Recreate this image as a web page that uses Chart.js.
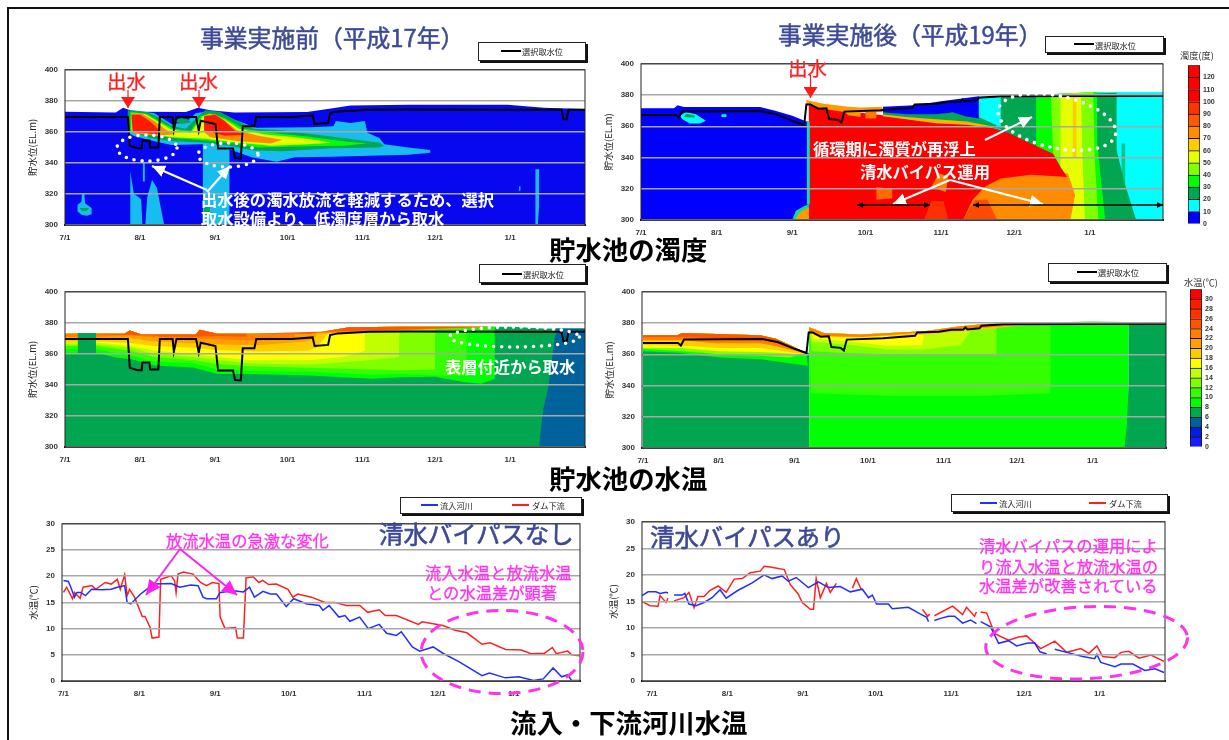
<!DOCTYPE html>
<html lang="ja">
<head>
<meta charset="utf-8">
<title>貯水池の濁度・水温</title>
<script src="https://cdn.jsdelivr.net/npm/chart.js@4"></script>
<style>
body { margin: 0; background: #fff; width: 1229px; height: 740px; overflow: hidden; position: relative; font-family: "Noto Sans CJK JP", sans-serif; }
canvas { position: absolute; }
#frame { position: absolute; left: 7px; top: 7px; width: 1240px; height: 760px; border: 2.5px solid #111; }
#notes { position: absolute; left: 0; top: 0; }
.t { position: absolute; white-space: nowrap; transform: translateY(-50%); line-height: 1; }
.title { font-size: 23.8px; color: #3d4a96; -webkit-text-stroke: 0.5px #3d4a96; }
.cap { font-size: 26.4px; font-weight: bold; color: #000; }
.red { font-size: 19.5px; color: #ff2020; -webkit-text-stroke: 0.3px #ff2020; }
.white { font-size: 16.3px; font-weight: bold; color: #fff; }
.pink { font-size: 16.3px; color: #ff33ee; -webkit-text-stroke: 0.3px #ff33ee; }
.navy { font-size: 24.4px; color: #3d4a96; -webkit-text-stroke: 0.6px #3d4a96; }
.bar { font-size: 9.2px; color: #333; }
.box { position: absolute; box-sizing: border-box; background: #fff; border: 1px solid #222; box-shadow: 2px 2px 0 #111; }
.key { position: absolute; height: 2px; }
.kt { font-size: 8.2px; color: #222; }
</style>
</head>
<body>
<div id="frame"></div>
<script>
// month ticks, days counted from 7/1
const monthDays = [0, 31, 62, 92, 123, 153, 184];
const monthLabels = ['7/1', '8/1', '9/1', '10/1', '11/1', '12/1', '1/1'];

// selected intake level, [day, EL.m]
const intake17 = [[0,369.6],[26,369.6],[26.8,351],[30,349.5],[31.7,349.5],[32,354.5],[34.9,354.5],[35.2,349.9],[38.6,349.9],[39.2,369.6],[44.5,369.6],[45,361.5],[46.1,369.6],[54.2,369.6],[55.3,360.9],[56.1,367.2],[62.2,365.1],[63.3,349.3],[69.5,349.3],[70.3,343.1],[72.7,342.9],[73.5,363.6],[78.3,363.6],[79.1,369.6],[93.6,369.6],[102.4,370.6],[103.2,365.1],[108.8,365.8],[109.6,372.1],[112.9,373.2],[125.7,374.2],[141.8,374.4],[182,374.2],[205.3,374.2],[206.1,368.1],[207.4,368.1],[208.2,374.2],[215,374.2]];
const intake19 = [[0,367.3],[14.3,367.3],[15.5,365.6],[16.8,369.4],[48.8,369.8],[55.4,367.7],[62,363.5],[66.9,360.8],[67.8,374],[69.4,374],[72.7,371.3],[76,371.5],[77.1,364.6],[80.9,364.1],[82.2,362.4],[83.4,369.4],[98.2,370.3],[111.3,371.9],[112.2,374],[121.2,374.5],[126.2,375.7],[131,375.7],[131.9,377.2],[132.8,375.9],[137.7,376.6],[138.5,378.3],[147.5,379.3],[214,379.5]];

// turbidity, before the project: outlines of each colour band, [day, EL.m]
const turb17Base = [[0,300],[0,373],[21,372.5],[24,375.5],[27,374],[30,373],[50,372.8],[55,375.5],[60,374],[70,372.5],[100,372.8],[110,375],[118,377],[142,377.5],[183,377.5],[198,375.5],[215,374.8],[215,300]];
const turb17Cyan = [[26,373],[28.5,374],[37,372],[44,365],[50,366],[54,372],[58,373],[64,372.5],[70,368],[79,362.6],[101.6,363],[111,363.6],[112,367],[118,365.8],[124,367],[125,359.4],[130,356],[132,352],[142,350],[151,348.4],[151,346.5],[142,345.2],[125.7,344.6],[110,344],[95,343.6],[87.5,340.8],[77.5,343.5],[68,348.8],[68,300],[57,300],[57,352],[44,351.6],[37,354],[28.5,357.3],[26,359.4]];
const turb17Green = [[26,374],[33,373],[38,370],[44,364],[50,362],[55,370],[58,374],[64,373],[70,368],[78,362],[90,361],[100,359],[115,356],[130,353],[132,351],[130,350],[110,349.5],[90,347.5],[78,348],[68,351],[58,353],[45,354],[35,356],[26,361]];
const turb17Bright = [[27,373],[34,371.5],[39,367],[45,362],[52,360.5],[56,370],[60,372],[66,369],[74,362],[85,359.5],[100,357],[115,354],[125,352.5],[115,351],[95,350.5],[80,350],[70,352.5],[58,354.5],[45,356],[35,358],[27,361]];
const turb17Yellow = [[27.5,372],[33,371.5],[38,367],[44,361.5],[52,359.5],[57,370],[60,371.5],[66,368],[72,362],[82,358.5],[95,356.5],[105,354.5],[110,353],[100,352],[85,351],[72,353],[58,355.5],[45,356.5],[35,358.5],[27.5,360]];
const turb17Orange1 = [[27.5,372],[32,371.5],[37,367],[42,361],[46,358.5],[38,357.5],[28,359]];
const turb17Orange2 = [[57.5,370.5],[62,371.5],[66,367.5],[71,361],[80,357.5],[90,355],[85,352.5],[72,354],[60,356.5],[57.5,360]];
const turb17Red1 = [[27.5,371],[31,371],[35,367],[39,361],[38,358.5],[28,360]];
const turb17Red2 = [[57.5,370],[62,371],[66,367],[70,361],[74,358],[66,357.5],[57.5,361]];
const turb17Blob = [[45,367],[48,369],[51,368],[52,366],[48,365]];
const turb17Spike1 = [[27,300],[27,334.5],[28.5,320],[30,318.5],[31.5,316.5],[32,300]];
const turb17Spike2 = [[32.2,340],[33,340],[33,328],[32.2,328]];
const turb17Hump = [[33.2,300],[34,318],[36,329],[38,324],[39.5,312],[41,300]];
const turb17Far1 = [[194.5,300],[194.5,336],[196,336],[196,312],[195.5,300]];
const turb17Far2 = [[187.7,322],[188.3,322],[188.3,325],[187.7,325]];
const turb17Drop = [[7,320],[8,320],[8.3,314],[11,311],[11,307],[9,306],[7,306.5],[5,309],[5.2,313],[6.8,315]];
const turb17DropCore = [[6,311],[10,311],[9,309],[7,309]];
const turb17Column = [[57.5,306],[57.5,312],[60,312],[60,306]];

// turbidity, after the project
const turb19Blue = [[0,300],[0,371.5],[13.5,371.5],[15,373.4],[17.6,372.4],[48.8,372.4],[55,370],[62,366.7],[67.8,363],[68.8,363],[68.8,300]];
const turb19Cyan = [[138.5,379.3],[164,380.4],[187,382],[214,382],[214,300],[138.5,300]];
const turb19DarkGreen = [[147.5,379],[195,381.5],[195,345],[198,325],[203,300],[185,300],[160,330],[147.5,350]];
const turb19Green = [[162,380],[187,382],[187,350],[190.3,300],[170,300],[162,340]];
const turb19Lime = [[168,380.5],[185.4,382],[186,340],[187.5,300],[170,300]];
const turb19Yellow = [[172,380.5],[180.4,381],[181,340],[182,300],[172,300]];
const turb19Strip = [[177,381],[178.5,381],[178.5,340],[177,340]];
const turb19Orange = [[130,300],[136,316],[141,323],[147.5,330],[160,331],[175,330],[178,316],[176,300]];
const turb19Red = [[68.8,375],[72,373.5],[80,371.5],[83,370],[99,367],[108.8,364.6],[121,362.4],[133.4,361.4],[138.5,361.4],[149,356.8],[157.4,350.8],[169,342.4],[172,334],[174.7,327.6],[160,329],[147.5,326.6],[141,321.3],[136,313],[132,300],[68.8,300]];
const turb19Deep = [[132,300],[137,313],[142,313],[146,300]];
const turb19Patch1 = [[96.5,313],[96.5,321],[103,320],[103,314]];
const turb19Patch2 = [[119,321],[122,330],[126,328],[125,318]];
const turb19Patch3 = [[116,300],[119,312],[124,312],[126,300]];
const turb19Top = [[67.8,376.8],[70,376],[75,374.5],[85,372.5],[90,372],[99,372.5],[99,369],[84,369],[75,371],[67.8,374]];
const turb19Yel1 = [[83,370],[90,370],[90,366],[85,367]];
const turb19Yel2 = [[92,370],[96.5,370],[96.5,365],[92,365]];
const turb19Wedge = [[99.2,372.5],[112,373.5],[123,376],[138.5,379.3],[138.5,365],[133,366.5],[128,368.8],[121,367.7],[108.8,367.7],[99.2,368.8]];
const turb19Stripe = [[99.2,369],[108.8,368],[121,368],[128,369],[133,367],[138.5,366],[144,362],[149,358],[144,359],[133.4,361],[121,362],[108.8,364.5],[99.2,366.5]];
const turb19StripeIn = [[99.2,367.5],[108.8,366],[121,364.5],[133.4,363],[144,360],[144,359],[133.4,361],[121,362],[108.8,364.5],[99.2,366.5]];
const turb19Foot = [[62,300],[63.5,306],[67,309],[68.8,310],[68.8,300]];
const turb19FootIn = [[63,300],[65,305],[68.8,308],[68.8,300]];
const turb19Edge = [[68,363],[69.2,363],[69.2,310],[68,310]];
const turb19Cloud = [[16,366.7],[18.4,369.2],[22.5,367.7],[26.6,363.5],[24.2,361.8],[20,361.8],[16.8,364.6]];
const turb19CloudIn = [[17.5,366],[18.5,368],[22,367],[22,365.5]];
const turb19Speck = [[33,366],[35,366],[35,367.7],[33,367.7]];
const turb19Streak = [[197,313],[198.5,313],[198.5,349],[197,349]];

// water temperature, before the project
const temp17Base = [[0,300],[0,372.9],[24.5,373],[26.8,375],[31.6,372.5],[54,372.5],[55.7,375.6],[63,372.9],[101.4,372.9],[109.5,375],[117.5,377.1],[138.4,377.5],[185,377.5],[197.8,376.3],[215,376.3],[215,300]];
const temp17Top = [[0,372.9],[24.5,373],[26.8,375],[31.6,372.5],[54,372.5],[55.7,375.6],[63,372.9],[101.4,372.9],[109.5,375],[117.5,377.1],[138.4,377.5],[177.7,377.5]];
const temp17B8 = [[177.7,343.9],[172,340.7],[165.6,341.7],[152.8,345.3],[138.4,344.9],[127,343.9],[101,346],[75.8,347],[63,347],[53,351.3],[37,352.5],[27.6,356.5],[21,357.6],[12.8,360.8],[5,360],[0,360]];
const temp17B10 = [[166,377.5],[166,346],[153,346],[138,347],[127,346.5],[101,348.5],[76,349],[63,350],[53,354],[37,355],[27,359],[13,363],[0,363]];
const temp17B12 = [[153,377.5],[153,350],[138,349.5],[127,350],[101,351],[76,352],[63,353.5],[53,356],[37,358],[27,362],[13,365],[0,365]];
const temp17B14 = [[138.4,377.5],[138,358],[127,356],[101,353],[76,354],[63,356],[53,358],[37,360],[27,364],[13,366],[0,366]];
const temp17B16 = [[124,376],[124,362],[115,358],[101,356],[76,356],[63,358],[53,360],[37,362],[27,365],[13,367.5],[0,367.5]];
const temp17B18 = [[110,375],[104,364],[100,362],[80,361.5],[63,362.5],[53,364],[37,365],[27,367],[13,368],[0,367.5]];
const temp17B20 = [[104,373],[104,371],[100,368],[80,365.5],[63,366],[53,367],[37,368],[27,370],[13,369.5],[0,369.5]];
const temp17B22 = [[95,373],[95,370],[80,368.5],[63,369.5],[53,370.3],[37,370.5],[27,372],[13,370.8],[0,370.8]];
const temp17B24 = [[75,373],[75,371],[63,371.5],[53,371],[40,371],[37,371.8]];
const temp17Gap = [[5.3,358],[5.3,373.5],[12.8,373.5],[12.8,358]];
const temp17Cold = [[196,300],[197,315],[197.8,325],[200,340],[202.6,372],[203,376.3],[215,376.3],[215,300]];

// water temperature, after the project
const temp19Left = [[0,300],[0,372.2],[14,372.2],[16,373.7],[48,372.2],[54.4,370],[61,365.3],[66.7,361],[68,361],[68,300]];
const temp19LeftTop = [[0,372.2],[14,372.2],[16,373.7],[48,372.2],[54.4,370],[61,365.3],[66.7,361]];
const temp19L8 = [[67.5,352.6],[48,356.8],[31.5,357.9],[14,361],[0,362]];
const temp19L12 = [[60,358],[48,359],[31,360],[16,362],[0,363.5]];
const temp19L16 = [[67,359],[60,360.5],[48,361.5],[31,362],[16,364],[0,364]];
const temp19L18 = [[67,360],[61,361],[56,362.5],[48,364],[31,364],[16,365.5],[0,366]];
const temp19L22 = [[67,360.5],[60,363],[55,365],[48,367],[30,367],[16,369],[0,369]];
const temp19L26 = [[67,360.8],[60,364],[54,367.5],[48,369.5],[16,371],[0,371]];
const temp19Right = [[68,300],[68,377.3],[74,373.7],[89,372.6],[115,374.7],[130,377.9],[140,379.4],[183,381],[198.7,380.6],[198.7,300]];
const temp19RTop = [[68,377.3],[74,373.7],[89,372.6],[115,374.7],[130,377.9],[140,379.4],[166.7,380.2]];
const temp19R10 = [[166.7,335],[140,333.5],[100,333.5],[68.8,335]];
const temp19R12 = [[144.6,379.9],[144.6,360],[100,360],[80,361],[69,362]];
const temp19R14 = [[136.4,379],[135,377],[130,366],[125,365],[115,363],[100,363],[85,366],[69,368]];
const temp19R16 = [[115.5,374.7],[114,366],[100,365.5],[85,368],[70,370]];
const temp19R18 = [[115,372.5],[85,371],[70,372]];
const temp19R22 = [[90,371],[74,371.5],[68,374]];
const temp19Cold = [[197,300],[198,315],[198.7,340],[198.7,380.6],[214,380.6],[214,300]];

// river water temperature, [day, deg C], null breaks the line
const inflow17 = [[0,19.2],[2,19],[3,17.9],[4.5,16],[5.5,16.9],[7,16.9],[9,16.3],[11.5,17.5],[15.5,17.4],[19.5,17.5],[22,17.9],[25,18.2],[26,15],[27.5,14.7],[31.5,16.6],[34,17.5],[37,18.5],[44,18.6],[47.5,17.9],[52,18.3],[55,18.2],[57,16],[58.5,15.7],[62.5,15.7],[64,16.9],[69.5,17.2],[73.5,17],[76,17.9],[78,16],[81.5,17.1],[84.5,16.6],[87,16.6],[91,14.2],[94,15.7],[99.5,14.7],[104.5,14.4],[106,13.5],[108.5,14.4],[112.5,12.2],[115,12.5],[117,11.4],[121,12.2],[124.5,10],[129,10.8],[132,9.1],[136,8.7],[138,9.4],[142.5,6.5],[145.5,5.7],[151,6.5],[155,5.3],[161.5,3.7],[171,1],[174,1.5],[180.5,0.6],[186,0.8],[192,0.1],[196,0.4],[200,2.5],[203.5,0.8],[206,1.2],[207.5,0.1],[211,0.1]];
const outflow17 = [[0,16.9],[1.3,17.9],[3.7,15.7],[4.5,16.9],[6.8,15.8],[8,17.9],[11.6,18.2],[13.2,17.5],[17,18.8],[19.5,18.5],[22,19.4],[23.2,17.5],[25,20.3],[26,16.3],[27,17.5],[29,16],[32.2,12.3],[33.3,12.3],[35.4,10.2],[36.2,8.2],[39,8.4],[39.7,19.4],[44,20.1],[45.4,19.1],[46,16.9],[46.8,20.4],[49,20.8],[52.9,20.4],[56,18.8],[58.4,18.2],[60.8,18.8],[63.5,18.6],[64,12.2],[66,10],[70.3,10.2],[71,8.2],[73.5,8.2],[74.6,19.7],[77.5,19.9],[79.8,18.8],[81.4,19.2],[83.8,18.4],[87,18.5],[91.7,17.5],[93.7,16],[95.7,16.6],[101.3,16],[106.8,15],[110.8,15],[115.6,14.4],[121,14.4],[124.3,13.1],[129,13.6],[131.4,12.5],[136,12.5],[145,10.8],[146.5,11.3],[155,10.6],[160,9.7],[164.8,9.2],[171,7],[174.3,7.3],[180.6,6],[187,5.9],[191,5.2],[196.5,5.3],[199.7,6.4],[201.3,5.2],[206,5.7],[207.6,5],[210.8,4.8]];
const inflow19 = [[-4.1,16.1],[-1.6,16.8],[1.6,16.8],[3.3,16.5],[5.8,16.7],[6.6,16.6],[7.5,null],[9.1,16.2],[12.4,16.2],[13.5,16.5],[15.2,14.5],[18.1,14.2],[21.4,14.8],[24.7,15.7],[28,17.2],[30.5,15.6],[35.4,17.1],[41.2,18.5],[46.1,20],[49.4,19.3],[53.5,19.8],[56,18.8],[59.3,19.5],[64.3,17.6],[68.4,18.7],[72.5,17.6],[77.4,17.8],[81.5,16.8],[86.5,17.3],[89,15.7],[90.6,16.2],[92.3,14.5],[97.2,14.5],[98.8,13.6],[105.4,13.9],[110.4,12.6],[112.9,12],[113.7,11.2],[115,null],[116.1,11.4],[118.6,11.8],[121.9,12.2],[124.4,12.2],[127.7,10.9],[131,11.5],[133.4,10.8],[134,null],[135.1,11.2],[139.2,10.2],[142.5,7.1],[146.6,7.6],[149.9,6.6],[154,7.1],[157.3,7.2],[159.5,5.5],[162.3,5.1],[164,null],[165.6,6],[171.3,5.3],[177.1,4.6],[182,4.2],[182.9,5],[184.5,3.5],[190.3,2.7],[192.8,3.2],[197.7,3.2],[202.6,2],[206.8,2.3],[210.5,1.6]];
const outflow19 = [[-4.1,15],[-0.8,14.2],[2.5,14.1],[3.3,16.1],[5.8,14.8],[6.6,15.6],[7.5,null],[9.1,15.1],[13.2,15.7],[15.2,16.7],[17.3,13.8],[18.9,15.9],[21.4,15.9],[23.9,17.1],[27.2,17.9],[30.5,16.7],[33.8,19.2],[37.1,19.3],[40.4,20.4],[44.5,20.7],[46.1,21.6],[48.6,21.5],[54.4,21],[56.8,18.2],[60.1,16.4],[61.8,14.8],[65.1,13.5],[66.4,13.5],[67.5,19.3],[69.2,15.7],[71.7,18.4],[73.3,16.7],[75.8,18.4],[78,null],[82.4,17.5],[84,19.3],[86,17.3],[90,null],[111.2,13.5],[113.3,12.2],[114.2,12.6],[115,null],[116.1,12.3],[123.6,14.1],[127.7,12.5],[129.3,13.9],[132.6,12.2],[133.4,13],[134,null],[135.1,13],[137.6,12.8],[140.9,8.9],[146.6,7.7],[150.7,8.3],[154,8.5],[159.8,6.1],[165.6,7.5],[170.5,5.4],[176.3,6.1],[179.6,5.2],[182.9,6.6],[185.3,4.6],[190.3,4.4],[192.8,5.4],[196,5.6],[200.2,4.3],[205.1,4.9],[210.5,3.7]];

// colour bars
const turbClasses = [10,10,10,10,10,10,10,10,10,10,10,10,10];
const turbColors = ['#0000ff','#00ffff','#00a650','#00ff00','#80ff00','#e6ff00','#ffcc00','#ff8c00','#ff5a00','#ff3300','#ff0000','#ff0000','#ff0000'];
const tempClasses = [2,2,2,2,2,2,2,2,2,2,2,2,2,2,2,2];
const tempColors = ['#1a1aff','#0020e0','#00629b','#00a650','#00ff00','#33ff00','#80ff00','#c0ff00','#ffff00','#ffcc00','#ffa000','#ff7f00','#ff5500','#ff3300','#ff1a00','#ff0000'];

// layers run from back to front
const turb17Layers = [[turb17Base,'#0808f0'],[turb17Cyan,'#18bdf0'],[turb17Spike1,'#18bdf0'],[turb17Spike2,'#18bdf0'],[turb17Hump,'#18bdf0'],[turb17Far1,'#18bdf0'],[turb17Far2,'#18bdf0'],[turb17Drop,'#18bdf0'],[turb17DropCore,'#00a650'],[turb17Column,'#00a650'],[turb17Green,'#00a650'],[turb17Blob,'#00a650'],[turb17Bright,'#00ff00'],[turb17Yellow,'#e6ff00'],[turb17Orange1,'#ff8c00'],[turb17Orange2,'#ff8c00'],[turb17Red1,'#ff1a00'],[turb17Red2,'#ff1a00']];
const turb19Layers = [[turb19Blue,'#0000ff'],[turb19Cloud,'#00ffff'],[turb19CloudIn,'#00a650'],[turb19Speck,'#00ffff'],[turb19Cyan,'#00ffff'],[turb19Streak,'#00c890'],[turb19DarkGreen,'#00a650'],[turb19Green,'#00ff00'],[turb19Lime,'#80ff00'],[turb19Yellow,'#e6ff00'],[turb19Strip,'#ffcc00'],[turb19Orange,'#ff8c00'],[turb19Red,'#ff0000'],[turb19Deep,'#ff4a00'],[turb19Patch1,'#ff6a00'],[turb19Patch2,'#ff7a00'],[turb19Patch3,'#ff3000'],[turb19Top,'#ff9a00'],[turb19Yel1,'#ff9a00'],[turb19Yel2,'#ff7a00'],[turb19Stripe,'#00a650'],[turb19StripeIn,'#ffb000'],[turb19Wedge,'#0000ff'],[turb19Foot,'#00e0a0'],[turb19FootIn,'#ff9a00'],[turb19Edge,'#00e0c0']];

// a water layer from the surface down to a lower limit
function band(top, lower) {
    return top.concat(lower);
}
const temp17Layers = [[temp17Base,'#00a650'],[band(temp17Top,temp17B8),'#00ff00'],[band(temp17Top,temp17B10),'#33ff00'],[band(temp17Top,temp17B12),'#80ff00'],[band(temp17Top,temp17B14),'#c0ff00'],[band(temp17Top,temp17B16),'#ffff00'],[band(temp17Top,temp17B18),'#ffcc00'],[band(temp17Top,temp17B20),'#ffa000'],[band(temp17Top,temp17B22),'#ff7f00'],[band(temp17Top,temp17B24),'#ff5500'],[temp17Gap,'#00a650'],[temp17Cold,'#00629b']];
const temp19Layers = [[temp19Left,'#00a650'],[band(temp19LeftTop,temp19L8),'#00ff00'],[band(temp19LeftTop,temp19L12),'#80ff00'],[band(temp19LeftTop,temp19L16),'#ffff00'],[band(temp19LeftTop,temp19L18),'#ffcc00'],[band(temp19LeftTop,temp19L22),'#ff8000'],[band(temp19LeftTop,temp19L26),'#ff5500'],[temp19Right,'#00ff00'],[band(temp19RTop,temp19R10),'#33ff00'],[band(temp19RTop,temp19R12),'#80ff00'],[band(temp19RTop,temp19R14),'#c0ff00'],[band(temp19RTop,temp19R16),'#ffff00'],[band(temp19RTop,temp19R18),'#ffcc00'],[band(temp19RTop,temp19R22),'#ff8000'],[temp19Cold,'#00a650']];

Chart.defaults.animation = false;
Chart.defaults.events = [];
Chart.defaults.font.family = '"Liberation Sans", sans-serif';

const plotFrame = {
    id: 'plotFrame',
    afterDraw(chart) {
        const a = chart.chartArea;
        const ctx = chart.ctx;
        ctx.save();
        ctx.strokeStyle = '#222';
        ctx.lineWidth = 1;
        ctx.strokeRect(a.left, a.top, a.right - a.left, a.bottom - a.top);
        ctx.restore();
    }
};

function points(list) {
    return list.map(p => ({x: p[0], y: p[1]}));
}

function addCanvas(left, top, width, height) {
    const c = document.createElement('canvas');
    c.width = width;
    c.height = height;
    c.style.left = left + 'px';
    c.style.top = top + 'px';
    document.body.appendChild(c);
    return c;
}

// area gives the plot rectangle in the page, the axes get fixed sizes around it
function makePlot(area, xRange, yAxis, datasets, titlePad) {
    const axisW = 40, axisH = 22, pad = 10;
    const c = addCanvas(area[0] - axisW, area[1] - pad, area[2] - area[0] + axisW + pad, area[3] - area[1] + pad + axisH);
    return new Chart(c, {
        type: 'line',
        data: {datasets: datasets},
        plugins: [plotFrame],
        options: {
            responsive: false,
            layout: {padding: {top: pad, right: pad, left: 0, bottom: 0}},
            plugins: {legend: {display: false}, tooltip: {enabled: false}},
            elements: {point: {radius: 0}, line: {tension: 0}},
            scales: {
                x: {
                    type: 'linear',
                    min: xRange[0],
                    max: xRange[1],
                    grid: {display: false, drawTicks: false},
                    border: {color: '#111', width: 2},
                    afterBuildTicks(axis) { axis.ticks = monthDays.map(d => ({value: d})); },
                    afterFit(axis) { axis.height = axisH; },
                    ticks: {
                        autoSkip: false,
                        maxRotation: 0,
                        padding: 8,
                        color: '#333',
                        font: {size: 8, weight: 'bold'},
                        callback: v => monthLabels[monthDays.indexOf(v)]
                    }
                },
                y: {
                    min: yAxis.min,
                    max: yAxis.max,
                    afterFit(axis) { axis.width = axisW; },
                    grid: {color: '#a8a8a8', lineWidth: 1.5, drawTicks: false, z: 1},
                    border: {display: false},
                    title: {display: true, text: yAxis.title, color: '#222', padding: {top: titlePad, bottom: 0}, font: {family: '"Noto Sans CJK JP"', size: 9.5}},
                    ticks: {stepSize: yAxis.step, padding: 7, color: '#333', font: {size: 8, weight: 'bold'}}
                }
            }
        }
    });
}

// dataset 0 is painted last, so the lines come first and the layers reversed
function heatDatasets(layers, intake) {
    const sets = [{label: '選択取水位', data: points(intake), borderColor: '#000', borderWidth: 2, fill: false}];
    layers.slice().reverse().forEach(l => {
        sets.push({data: points(l[0]), borderWidth: 0, borderColor: 'transparent', backgroundColor: l[1], fill: 'shape'});
    });
    return sets;
}

function lineDatasets(inflow, outflow) {
    return [
        {label: '流入河川', data: points(inflow), borderColor: '#2030ff', borderWidth: 1.5, fill: false},
        {label: 'ダム下流', data: points(outflow), borderColor: '#ff2020', borderWidth: 1.5, fill: false}
    ];
}

function makeColorBar(left, top, bottom, max, step, classes, colors) {
    const w = 12, axisW = 22, pad = 6;
    const c = addCanvas(left, top - pad, w + axisW, bottom - top + pad * 2);
    new Chart(c, {
        type: 'bar',
        data: {
            labels: [''],
            datasets: classes.map((v, i) => ({data: [v], backgroundColor: colors[i], borderColor: '#111', borderWidth: 1, barPercentage: 1, categoryPercentage: 1}))
        },
        options: {
            responsive: false,
            layout: {padding: {top: pad, bottom: pad}},
            plugins: {legend: {display: false}, tooltip: {enabled: false}},
            scales: {
                x: {stacked: true, display: false},
                y: {
                    stacked: true,
                    position: 'right',
                    min: 0,
                    max: max,
                    afterFit(axis) { axis.width = axisW; },
                    grid: {display: false, drawTicks: false},
                    border: {display: false},
                    ticks: {stepSize: step, autoSkip: false, padding: 3, color: '#333', font: {size: 7, weight: 'bold'}, callback: v => v === max ? '' : v}
                }
            }
        }
    });
}

const levelAxis = {min: 300, max: 400, step: 20, title: '貯水位(EL.m)'};
const tempAxis = {min: 0, max: 30, step: 5, title: '水温(℃)'};

makePlot([64.6, 67.7, 585, 225.3], [0, 215], levelAxis, heatDatasets(turb17Layers, intake17), 2);
makePlot([641.3, 62.3, 1163.6, 220.3], [0, 214], levelAxis, heatDatasets(turb19Layers, intake19), 2);
makePlot([65.4, 290, 586, 447.3], [0, 215], levelAxis, heatDatasets(temp17Layers, intake17), 2);
makePlot([642, 290, 1166.4, 448.3], [-0.4, 214], levelAxis, heatDatasets(temp19Layers, intake19), 2);
makePlot([61.5, 522.3, 580, 681.3], [-0.6, 211], tempAxis, lineDatasets(inflow17, outflow17), 6);
makePlot([642, 520, 1165.6, 681.3], [-4.1, 210.9], tempAxis, lineDatasets(inflow19, outflow19), 6);

makeColorBar(1188, 64, 225, 130, 10, turbClasses, turbColors);
makeColorBar(1190, 288, 448, 32, 2, tempClasses, tempColors);
</script>

<svg id="notes" width="1229" height="740">
<defs>
<marker id="hw" markerUnits="userSpaceOnUse" markerWidth="14" markerHeight="12" refX="13" refY="6" orient="auto"><path d="M0 0L13 6L0 12z" fill="#fff"/></marker>
<marker id="hr" markerUnits="userSpaceOnUse" markerWidth="12" markerHeight="14" refX="11" refY="7" orient="auto"><path d="M0 0L11 7L0 14z" fill="#ff1a1a"/></marker>
<marker id="hp" markerUnits="userSpaceOnUse" markerWidth="16" markerHeight="14" refX="15" refY="7" orient="auto"><path d="M0 0L15 7L0 14z" fill="#ff22ee"/></marker>
<marker id="hk" markerUnits="userSpaceOnUse" markerWidth="7" markerHeight="6" refX="6" refY="3" orient="auto-start-reverse"><path d="M0 0L6 3L0 6z" fill="#000"/></marker>
</defs>
<g fill="none" stroke="#fff" stroke-width="3.6" stroke-linecap="round" stroke-dasharray="0 8">
<ellipse cx="147" cy="148" rx="30" ry="13"/>
<ellipse cx="228" cy="155" rx="30" ry="12"/>
<ellipse cx="1057" cy="122" rx="60" ry="26" transform="rotate(12 1057 122)"/>
<ellipse cx="514.5" cy="337" rx="65" ry="10"/>
</g>
<g stroke="#fff" stroke-width="2.2">
<line x1="207" y1="190" x2="152" y2="166" marker-end="url(#hw)"/>
<line x1="207" y1="192" x2="230" y2="166" marker-end="url(#hw)"/>
<line x1="985" y1="140" x2="1032" y2="117" marker-end="url(#hw)"/>
<line x1="950" y1="180" x2="893" y2="204" marker-end="url(#hw)"/>
<line x1="950" y1="180" x2="1043" y2="204" marker-end="url(#hw)"/>
</g>
<g stroke="#000" stroke-width="1.5">
<line x1="857" y1="205" x2="930" y2="205" marker-start="url(#hk)" marker-end="url(#hk)"/>
<line x1="973" y1="205" x2="1163" y2="205" marker-start="url(#hk)" marker-end="url(#hk)"/>
</g>
<g stroke="#ff1a1a" stroke-width="1.2">
<line x1="128" y1="90" x2="128" y2="108" marker-end="url(#hr)"/>
<line x1="199" y1="90" x2="199" y2="108" marker-end="url(#hr)"/>
<line x1="810.5" y1="75" x2="810.5" y2="98" marker-end="url(#hr)"/>
</g>
<g stroke="#ff22ee" stroke-width="2">
<line x1="180" y1="549" x2="146" y2="595" marker-end="url(#hp)"/>
<line x1="180" y1="549" x2="237" y2="595" marker-end="url(#hp)"/>
</g>
<g fill="none" stroke="#ff33ee" stroke-width="3" stroke-dasharray="12 8">
<ellipse cx="502" cy="652" rx="81" ry="41.5"/>
<ellipse cx="1086.6" cy="642.7" rx="101" ry="36" transform="rotate(-3 1086.6 642.7)"/>
</g>
</svg>

<div class="t title" style="left:200px;top:37px">事業実施前（平成17年）</div>
<div class="t title" style="left:778px;top:34px">事業実施後（平成19年）</div>
<div class="t cap" style="left:549px;top:249px">貯水池の濁度</div>
<div class="t cap" style="left:549px;top:478px">貯水池の水温</div>
<div class="t cap" style="left:510px;top:722px">流入・下流河川水温</div>

<div class="t red" style="left:107px;top:81px">出水</div>
<div class="t red" style="left:179px;top:81px">出水</div>
<div class="t red" style="left:788px;top:68px">出水</div>
<div class="t white" style="left:201px;top:199px">出水後の濁水放流を軽減するため、選択</div>
<div class="t white" style="left:201px;top:218px">取水設備より、低濁度層から取水</div>
<div class="t white" style="left:813px;top:148px">循環期に濁質が再浮上</div>
<div class="t white" style="left:860px;top:171px">清水バイパス運用</div>
<div class="t white" style="left:445px;top:366px">表層付近から取水</div>
<div class="t pink" style="left:166px;top:540px">放流水温の急激な変化</div>
<div class="t pink" style="left:425px;top:572px">流入水温と放流水温</div>
<div class="t pink" style="left:427px;top:592px">との水温差が顕著</div>
<div class="t pink" style="left:979px;top:545px">清水バイパスの運用によ</div>
<div class="t pink" style="left:979px;top:566px">り流入水温と放流水温の</div>
<div class="t pink" style="left:979px;top:585px">水温差が改善されている</div>
<div class="t navy" style="left:379px;top:533px">清水バイパスなし</div>
<div class="t navy" style="left:650px;top:536px">清水バイパスあり</div>
<div class="t bar" style="left:1180px;top:56px">濁度(度)</div>
<div class="t bar" style="left:1184px;top:283px">水温(℃)</div>

<div class="box" style="left:478px;top:42px;width:108px;height:19px"></div>
<div class="key" style="left:501px;top:50px;width:20px;background:#000"></div>
<div class="t kt" style="left:522px;top:51px">選択取水位</div>
<div class="box" style="left:1045px;top:36px;width:119px;height:17px"></div>
<div class="key" style="left:1074px;top:43px;width:20px;background:#000"></div>
<div class="t kt" style="left:1095px;top:45px">選択取水位</div>
<div class="box" style="left:479px;top:264px;width:107px;height:19px"></div>
<div class="key" style="left:502px;top:273px;width:20px;background:#000"></div>
<div class="t kt" style="left:523px;top:274px">選択取水位</div>
<div class="box" style="left:1048px;top:263px;width:119px;height:19px"></div>
<div class="key" style="left:1077px;top:271px;width:20px;background:#000"></div>
<div class="t kt" style="left:1098px;top:272px">選択取水位</div>
<div class="box" style="left:400px;top:497px;width:182px;height:17px"></div>
<div class="key" style="left:421px;top:504px;width:17px;background:#2030ff"></div>
<div class="t kt" style="left:440px;top:505px">流入河川</div>
<div class="key" style="left:512px;top:504px;width:17px;background:#ff2020"></div>
<div class="t kt" style="left:532px;top:505px">ダム下流</div>
<div class="box" style="left:951px;top:494px;width:217px;height:18px"></div>
<div class="key" style="left:980px;top:502px;width:17px;background:#2030ff"></div>
<div class="t kt" style="left:999px;top:503px">流入河川</div>
<div class="key" style="left:1089px;top:502px;width:17px;background:#ff2020"></div>
<div class="t kt" style="left:1109px;top:503px">ダム下流</div>
</body>
</html>
